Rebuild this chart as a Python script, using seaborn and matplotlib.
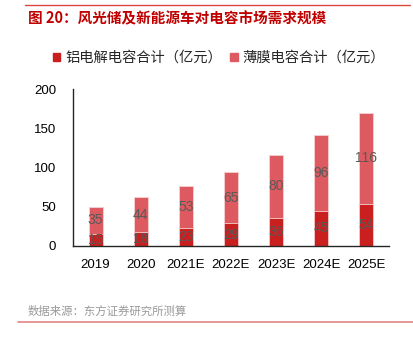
import matplotlib
matplotlib.use("Agg")
import matplotlib.pyplot as plt
import seaborn as sns
import pandas as pd
import numpy as np
from matplotlib.lines import Line2D
from matplotlib.patches import Rectangle

years = ["2019", "2020", "2021E", "2022E", "2023E", "2024E", "2025E"]
aluminum = [15, 18, 23, 29, 36, 45, 54]
film = [35, 44, 53, 65, 80, 96, 116]
series_names = ["铝电解电容合计（亿元）", "薄膜电容合计（亿元）"]
title = "图 20：风光储及新能源车对电容市场需求规模"
source = "数据来源：东方证券研究所测算"

sns.set_theme(style="white")
plt.rcParams["font.family"] = ["Noto Sans CJK SC", "DejaVu Sans"]

dark = "#C9201F"
light = "#DD5B60"
gray = "#595959"
numfont = "Liberation Sans"

df = pd.DataFrame({"year": years, "al": aluminum, "film": film})
df["total"] = df["al"] + df["film"]

fig = plt.figure(figsize=(4.13, 3.38), dpi=100)
ax = fig.add_axes([73/413, 1-246/338, (389-73)/413, (246-89)/338])

sns.barplot(data=df, x="year", y="total", color=light, saturation=1, width=0.31,
            edgecolor="#F6D0D0", linewidth=0.6, ax=ax)
sns.barplot(data=df, x="year", y="al", color=dark, saturation=1, width=0.31,
            edgecolor="#F6D0D0", linewidth=0.6, ax=ax)

for i, (a, f) in enumerate(zip(aluminum, film)):
    ax.text(i, a/2, str(a), ha="center", va="center", color=gray, fontsize=10,
            family=numfont, zorder=5)
    ax.text(i, a + f/2, str(f), ha="center", va="center", color=gray, fontsize=10,
            family=numfont, zorder=5)

ax.set_ylim(0, 200)
ax.set_xlim(-0.5, 6.5)
ax.set_yticks([0, 50, 100, 150, 200])
ax.set_xlabel("")
ax.set_ylabel("")
for s in ["top", "right"]:
    ax.spines[s].set_visible(False)
for s in ["left", "bottom"]:
    ax.spines[s].set_color("#262626")
    ax.spines[s].set_linewidth(1.0)
ax.tick_params(axis="both", which="major", length=0, labelsize=9.5, colors="#000000")
ax.tick_params(axis="y", pad=12)
ax.tick_params(axis="x", pad=9)
ax.set_xticks(np.arange(0.5, 6.5, 1), minor=True)
ax.tick_params(axis="x", which="minor", length=4, width=1, color="#262626", direction="out")
for lab in ax.get_xticklabels() + ax.get_yticklabels():
    lab.set_family(numfont)

# Legend
handles = [Rectangle((0, 0), 1, 1, color=dark), Rectangle((0, 0), 1, 1, color=light)]
fig.legend(handles, series_names, loc="center", bbox_to_anchor=(219/413, 1-58/338),
           ncol=2, frameon=False, fontsize=10.3, handlelength=0.5, handleheight=0.5,
           handletextpad=0.35, columnspacing=0.6, labelcolor="#262626",
           borderpad=0, borderaxespad=0)

# Title and decorations
fig.add_artist(Line2D([25/413, 410/413], [1-5/338, 1-5/338], color="#D9463F", lw=1.0))
fig.text(28/413, 1-18/338, title, color="#C00000", fontsize=10.5, fontweight="bold",
         ha="left", va="center")
fig.text(28/413, 1-311/338, source, color="#9A9A9A", fontsize=8.2, ha="left", va="center")
fig.add_artist(Line2D([18/413, 413/413], [1-322/338, 1-322/338], color="#E08585", lw=1.2))

fig.savefig("out.png", dpi=100)
